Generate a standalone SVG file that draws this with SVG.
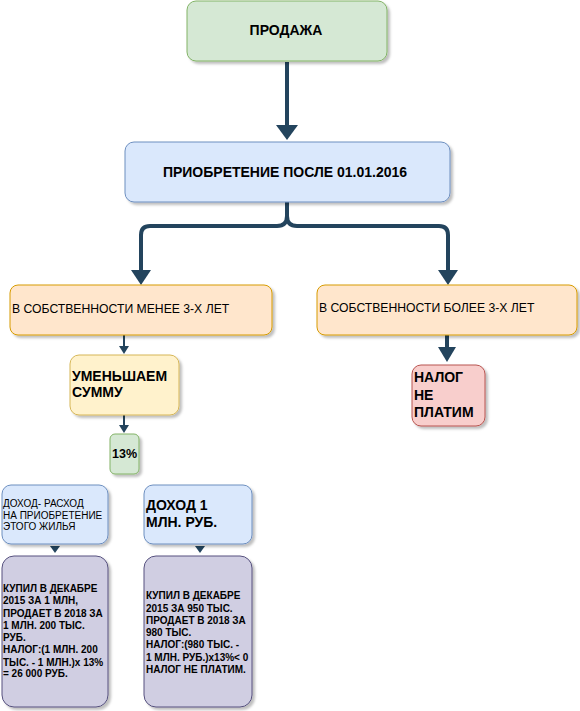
<svg xmlns="http://www.w3.org/2000/svg" width="580" height="711" viewBox="0 0 580 711">
<style>
text{font-family:"Liberation Sans",Arial,sans-serif;fill:#000}
.b{font-weight:bold}
.box{stroke-width:1}
.conn{fill:none;stroke:#23445d}
.thick{stroke-width:4}
.thin{stroke-width:2}
</style>
<defs>
<filter id="sh" x="-10%" y="-10%" width="130%" height="130%">
<feDropShadow dx="2.5" dy="2.5" stdDeviation="1.2" flood-color="#000" flood-opacity="0.25"/>
</filter>
</defs>
<rect width="580" height="711" fill="#fff"/>
<g id="connectors">
<path class="conn thick" d="M287,62 V126"/>
<polygon points="276,125 298,125 287,140" fill="#23445d"/>
<path class="conn thick" d="M287,202 V216 Q287,226 277,226 H150 Q141,226 141,235 V271"/>
<path class="conn thick" d="M287,216 Q287,226 297,226 H439 Q448,226 448,235 V271"/>
<polygon points="131,270 151,270 141,285" fill="#23445d"/>
<polygon points="438,270 458,270 448,285" fill="#23445d"/>
<path class="conn thin" d="M124,335 V347"/>
<polygon points="119,346 129,346 124,354" fill="#23445d"/>
<path class="conn thin" d="M124,415 V426"/>
<polygon points="119,425 129,425 124,433" fill="#23445d"/>
<path class="conn thick" d="M447,335 V349"/>
<polygon points="438,347 456,347 447,362" fill="#23445d"/>
<polygon points="50,546 60,546 55,553" fill="#23445d"/>
<polygon points="195,546 205,546 200,553" fill="#23445d"/>
</g>
<g id="n-prodazha">
<rect class="box" x="187" y="1" width="200" height="60" rx="9" fill="#d5e8d4" stroke="#82b366" filter="url(#sh)"/>
<text class="b" x="286" y="35" font-size="14" text-anchor="middle">ПРОДАЖА</text>
</g>
<g id="n-priobretenie">
<rect class="box" x="125" y="142" width="325" height="60" rx="9" fill="#dae8fc" stroke="#6c8ebf" filter="url(#sh)"/>
<text class="b" x="285" y="177" font-size="14" text-anchor="middle">ПРИОБРЕТЕНИЕ ПОСЛЕ 01.01.2016</text>
</g>
<g id="n-menee">
<rect class="box" x="10" y="285" width="262" height="50" rx="8" fill="#ffe6cc" stroke="#d79b00" filter="url(#sh)"/>
<text x="12" y="313" font-size="12.2">В СОБСТВЕННОСТИ МЕНЕЕ 3-Х ЛЕТ</text>
</g>
<g id="n-bolee">
<rect class="box" x="317" y="285" width="260" height="50" rx="8" fill="#ffe6cc" stroke="#d79b00" filter="url(#sh)"/>
<text x="319" y="312" font-size="12.2">В СОБСТВЕННОСТИ БОЛЕЕ 3-Х ЛЕТ</text>
</g>
<g id="n-umenshaem">
<rect class="box" x="70" y="355" width="109" height="60" rx="9" fill="#fff2cc" stroke="#d6b656" filter="url(#sh)"/>
<text class="b" font-size="14"><tspan x="72" y="381">УМЕНЬШАЕМ</tspan><tspan x="72" y="397">СУММУ</tspan></text>
</g>
<g id="n-13">
<rect class="box" x="110" y="434" width="29" height="40" rx="5" fill="#d5e8d4" stroke="#82b366" filter="url(#sh)"/>
<text class="b" x="124.5" y="458" font-size="12.5" text-anchor="middle">13%</text>
</g>
<g id="n-nalog">
<rect class="box" x="412" y="365" width="73" height="61" rx="9" fill="#f8cecc" stroke="#b85450" filter="url(#sh)"/>
<text class="b" font-size="14"><tspan x="414" y="382">НАЛОГ</tspan><tspan x="414" y="400">НЕ</tspan><tspan x="414" y="417">ПЛАТИМ</tspan></text>
</g>
<g id="n-dohod-rashod">
<rect class="box" x="2" y="485" width="106" height="59" rx="9" fill="#dae8fc" stroke="#6c8ebf" filter="url(#sh)"/>
<text font-size="10"><tspan x="3" y="507">ДОХОД- РАСХОД</tspan><tspan x="3" y="519">НА ПРИОБРЕТЕНИЕ</tspan><tspan x="3" y="530">ЭТОГО ЖИЛЬЯ</tspan></text>
</g>
<g id="n-dohod1">
<rect class="box" x="144" y="485" width="108" height="59" rx="9" fill="#dae8fc" stroke="#6c8ebf" filter="url(#sh)"/>
<text class="b" font-size="14"><tspan x="146" y="510">ДОХОД 1</tspan><tspan x="146" y="527">МЛН. РУБ.</tspan></text>
</g>
<g id="n-primer1">
<rect class="box" x="2" y="556" width="106" height="151" rx="12" fill="#d0cee2" stroke="#56517e" filter="url(#sh)"/>
<text class="b" font-size="10"><tspan x="3" y="592">КУПИЛ В ДЕКАБРЕ</tspan><tspan x="3" y="604">2015 ЗА 1 МЛН,</tspan><tspan x="3" y="617">ПРОДАЕТ В 2018 ЗА</tspan><tspan x="3" y="629">1 МЛН. 200 ТЫС.</tspan><tspan x="3" y="641">РУБ.</tspan><tspan x="3" y="653">НАЛОГ:(1 МЛН. 200</tspan><tspan x="3" y="666">ТЫС. - 1 МЛН.)х 13%</tspan><tspan x="3" y="677">= 26 000 РУБ.</tspan></text>
</g>
<g id="n-primer2">
<rect class="box" x="144" y="556" width="108" height="151" rx="12" fill="#d0cee2" stroke="#56517e" filter="url(#sh)"/>
<text class="b" font-size="10"><tspan x="146" y="599">КУПИЛ В ДЕКАБРЕ</tspan><tspan x="146" y="612">2015 ЗА 950 ТЫС.</tspan><tspan x="146" y="624">ПРОДАЕТ В 2018 ЗА</tspan><tspan x="146" y="636">980 ТЫС.</tspan><tspan x="146" y="648">НАЛОГ:(980 ТЫС. -</tspan><tspan x="146" y="661">1 МЛН. РУБ.)х13%&lt; 0</tspan><tspan x="146" y="673">НАЛОГ НЕ ПЛАТИМ.</tspan></text>
</g>
</svg>
